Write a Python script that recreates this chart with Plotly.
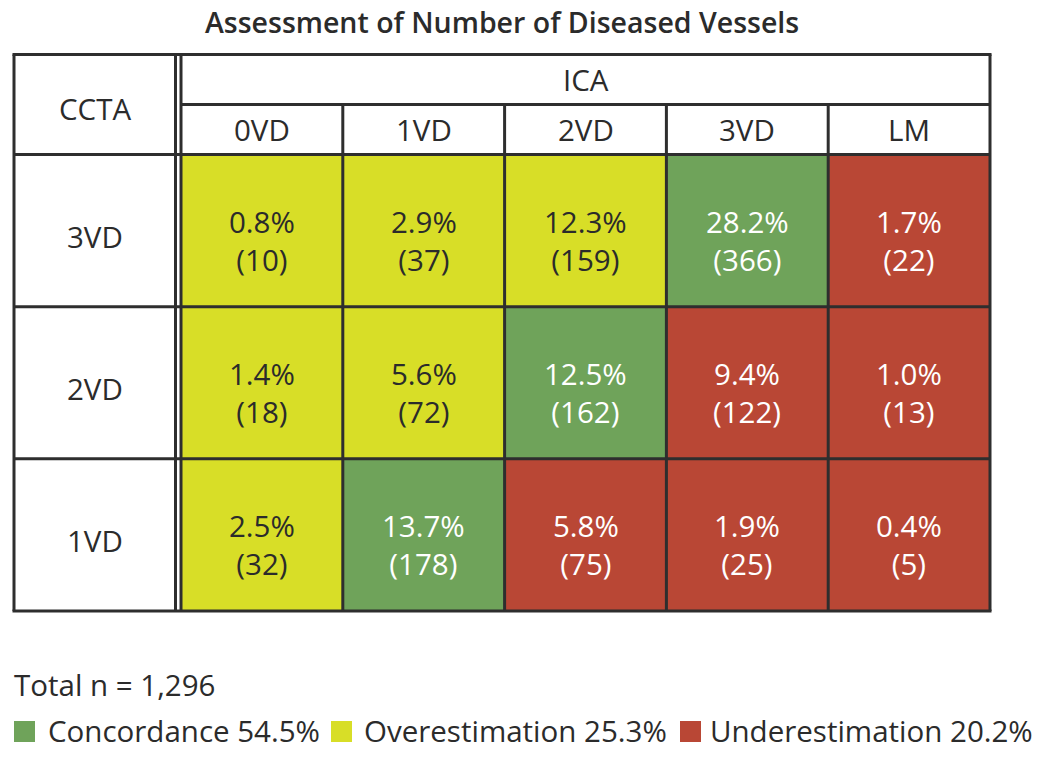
import plotly.graph_objects as go

# ---------------- data ----------------
ica_cols = ["0VD", "1VD", "2VD", "3VD", "LM"]
ccta_rows = ["3VD", "2VD", "1VD"]          # top to bottom
pct = [
    [0.8, 2.9, 12.3, 28.2, 1.7],
    [1.4, 5.6, 12.5, 9.4, 1.0],
    [2.5, 13.7, 5.8, 1.9, 0.4],
]
counts = [
    [10, 37, 159, 366, 22],
    [18, 72, 162, 122, 13],
    [32, 178, 75, 25, 5],
]
# 0 = concordance, 1 = overestimation, 2 = underestimation
category = [
    [1, 1, 1, 0, 2],
    [1, 1, 0, 2, 2],
    [1, 0, 2, 2, 2],
]
legend_labels = ["Concordance 54.5%", "Overestimation 25.3%", "Underestimation 20.2%"]
total_label = "Total n = 1,296"
title_text = "Assessment of Number of Diseased Vessels"

# ---------------- style ----------------
W, H = 1050, 760
GREEN, YELLOW, RED = "#6fa35a", "#d8de27", "#b94735"
cat_colors = [GREEN, YELLOW, RED]
text_on = ["white", "#2b2b2b", "white"]
LINE = "#2e2e2e"
LW = 3
FONT = "Open Sans"
DARK = "#2b2b2b"
FS = 29.5

def px(x):
    return x / W

def py(y):
    return 1 - y / H

# table geometry (window pixels)
T_LEFT, T_TOP, T_RIGHT, T_BOTTOM = 14, 54.5, 990, 611
DBL = 175.5
C_LEFT = 181
ICA_LINE = 104.5
HDR_LINE = 154.5

fig = go.Figure()
fig.add_trace(go.Heatmap(
    z=category, x=ica_cols, y=ccta_rows,
    zmin=0, zmax=2,
    colorscale=[[0, GREEN], [0.5, YELLOW], [1, RED]],
    showscale=False, hoverinfo="skip",
))

fig.update_layout(
    width=W, height=H,
    margin=dict(l=0, r=0, t=0, b=0),
    paper_bgcolor="white", plot_bgcolor="white",
    showlegend=False,
    xaxis=dict(domain=[px(C_LEFT), px(T_RIGHT)], type="category",
               categoryorder="array", categoryarray=ica_cols,
               range=[-0.5, len(ica_cols) - 0.5],
               showticklabels=False, showgrid=False, zeroline=False, fixedrange=True),
    yaxis=dict(domain=[py(T_BOTTOM), py(HDR_LINE)], type="category",
               categoryorder="array", categoryarray=ccta_rows[::-1],
               range=[-0.5, len(ccta_rows) - 0.5],
               showticklabels=False, showgrid=False, zeroline=False, fixedrange=True),
)

shapes = []
def pline(x0, y0, x1, y1):
    shapes.append(dict(type="line", xref="paper", yref="paper",
                       x0=px(x0), y0=py(y0), x1=px(x1), y1=py(y1),
                       line=dict(color=LINE, width=LW), layer="above"))

# outer border & header lines
pline(T_LEFT - 1.5, T_TOP, T_RIGHT + 1.5, T_TOP)
pline(T_LEFT - 1.5, T_BOTTOM, T_RIGHT + 1.5, T_BOTTOM)
pline(T_LEFT, T_TOP, T_LEFT, T_BOTTOM)
pline(T_RIGHT, T_TOP, T_RIGHT, T_BOTTOM)
pline(DBL, T_TOP, DBL, T_BOTTOM)
pline(C_LEFT, T_TOP, C_LEFT, T_BOTTOM)
pline(C_LEFT, ICA_LINE, T_RIGHT, ICA_LINE)
pline(T_LEFT, HDR_LINE, T_RIGHT, HDR_LINE)

# internal column lines (data coords in x), spanning sub-header + cells
for k in range(1, len(ica_cols)):
    shapes.append(dict(type="line", xref="x", yref="paper",
                       x0=k - 0.5, x1=k - 0.5, y0=py(ICA_LINE), y1=py(T_BOTTOM),
                       line=dict(color=LINE, width=LW), layer="above"))
# internal row lines (data coords in y), spanning row-label column + cells
for k in range(1, len(ccta_rows)):
    shapes.append(dict(type="line", xref="paper", yref="y",
                       x0=px(T_LEFT), x1=px(T_RIGHT), y0=k - 0.5, y1=k - 0.5,
                       line=dict(color=LINE, width=LW), layer="above"))

# legend squares
leg_x = [14, 331, 680]
for i, x0 in enumerate(leg_x):
    shapes.append(dict(type="rect", xref="paper", yref="paper",
                       x0=px(x0), x1=px(x0 + 21), y0=py(742), y1=py(721),
                       fillcolor=cat_colors[i], line=dict(width=0)))
fig.update_layout(shapes=shapes)

ann = []
# cell values (percent + count on two lines)
for i, r in enumerate(ccta_rows):
    for j, c in enumerate(ica_cols):
        col = text_on[category[i][j]]
        ann.append(dict(x=c, y=r, xref="x", yref="y",
                        text=f"{pct[i][j]:.1f}%<br>({counts[i][j]})",
                        showarrow=False, yshift=-10, align="center",
                        xanchor="center", yanchor="middle",
                        font=dict(family=FONT, size=FS, color=col)))
# row labels
for r in ccta_rows:
    ann.append(dict(x=px((T_LEFT + DBL) / 2), y=r, xref="paper", yref="y", text=r,
                    showarrow=False, yshift=-6, xanchor="center", yanchor="middle",
                    font=dict(family=FONT, size=FS, color=DARK)))
# column sub-headers
for c in ica_cols:
    ann.append(dict(x=c, y=py(130), xref="x", yref="paper", text=c,
                    showarrow=False, xanchor="center", yanchor="middle",
                    font=dict(family=FONT, size=FS, color=DARK)))
# group headers
ann.append(dict(x=px((C_LEFT + T_RIGHT) / 2), y=py(79), xref="paper", yref="paper",
                text="ICA", showarrow=False, xanchor="center", yanchor="middle",
                font=dict(family=FONT, size=FS, color=DARK)))
ann.append(dict(x=px((T_LEFT + DBL) / 2), y=py(108), xref="paper", yref="paper",
                text="CCTA", showarrow=False, xanchor="center", yanchor="middle",
                font=dict(family=FONT, size=FS, color=DARK)))
# title
ann.append(dict(x=px(502), y=py(22), xref="paper", yref="paper",
                text=title_text, showarrow=False, xanchor="center", yanchor="middle",
                font=dict(family=FONT, size=28.5, color=DARK, weight=600)))
# total
ann.append(dict(x=px(12), y=py(684), xref="paper", yref="paper",
                text=total_label, showarrow=False, xanchor="left", yanchor="middle",
                font=dict(family=FONT, size=FS, color=DARK)))
# legend labels
leg_tx = [46, 362, 708]
for i, t in enumerate(legend_labels):
    ann.append(dict(x=px(leg_tx[i]), y=py(730), xref="paper", yref="paper",
                    text=t, showarrow=False, xanchor="left", yanchor="middle",
                    font=dict(family=FONT, size=FS, color=DARK)))
fig.update_layout(annotations=ann)

fig.write_html("out.html", config={"displayModeBar": False},
               post_script="document.body.style.margin='0px';")
